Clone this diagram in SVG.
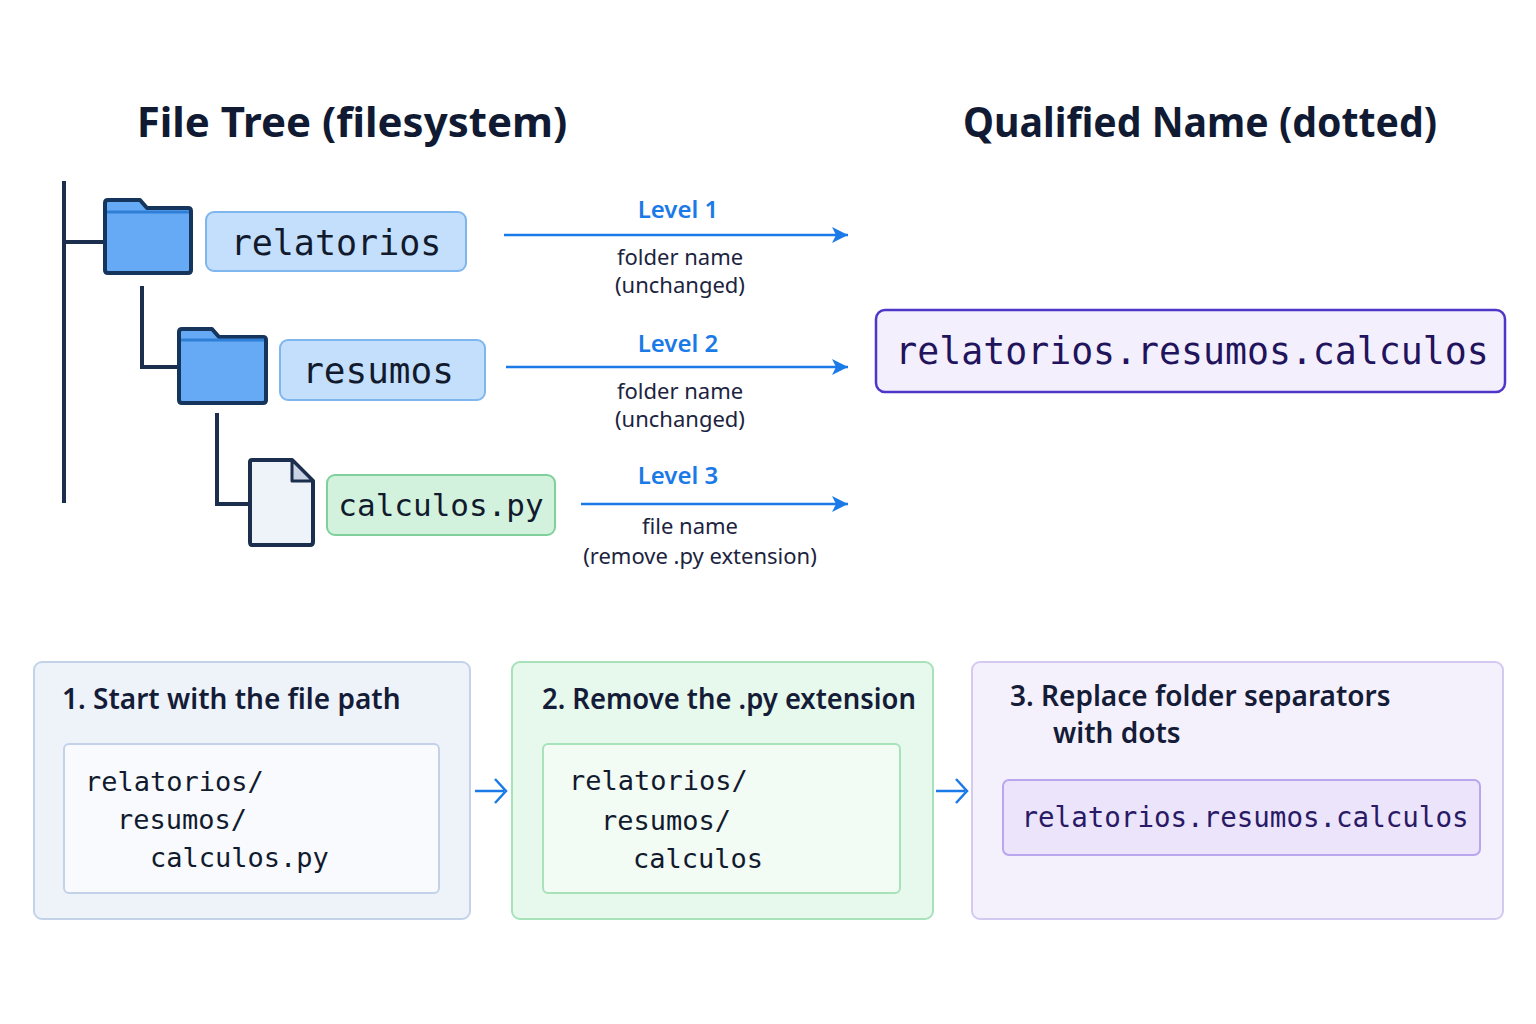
<svg xmlns="http://www.w3.org/2000/svg" width="1536" height="1024" viewBox="0 0 1536 1024">
<defs>
<style>
.title{font-family:"Noto Sans",sans-serif;font-weight:700;font-size:42px;fill:#111a33}
.mono{font-family:"DejaVu Sans Mono",monospace;fill:#121a2e}
.lvl{font-family:"Noto Sans",sans-serif;font-weight:600;font-size:24px;fill:#1a7ae8}
.note{font-family:"Noto Sans",sans-serif;font-size:22px;fill:#1c2440}
.step{font-family:"Noto Sans",sans-serif;font-weight:600;font-size:28px;fill:#141c38}
.tree{stroke:#1c2e4e;stroke-width:4;fill:none}
.arr{stroke:#1a7ae8;stroke-width:2.5;fill:none}
.folder{fill:#66aaf5;stroke:#16355c;stroke-width:4;stroke-linejoin:round}
</style>
<marker id="ah" viewBox="0 0 20 20" refX="18" refY="10" markerWidth="20" markerHeight="20" orient="auto" markerUnits="userSpaceOnUse"><path d="M2,2 L18,10 L2,18 L6,10 Z" fill="#1a7ae8"/></marker>
</defs>
<rect width="1536" height="1024" fill="#fff"/>
<text class="title" x="352" y="137" text-anchor="middle">File Tree (filesystem)</text>
<text class="title" x="1200" y="137" text-anchor="middle" textLength="474" lengthAdjust="spacingAndGlyphs">Qualified Name (dotted)</text>

<g id="connectors">
<path class="tree" d="M64,181 V503 M64,242 H104 M142,286 V367 H179 M217,413 V504 H249"/>
<path class="arr" d="M504,235 H848" marker-end="url(#ah)"/>
<path class="arr" d="M506,367 H848" marker-end="url(#ah)"/>
<path class="arr" d="M581,504 H848" marker-end="url(#ah)"/>
<path class="arr" d="M475,791 H504 M495,779 L506,791 L495,803"/>
<path class="arr" d="M936,791 H965 M956,779 L967,791 L956,803"/>
</g>

<g id="folder1">
<path class="folder" d="M105,203 Q105,200 108,200 H140 L147,208 H188 Q191,208 191,211 V270 Q191,273 188,273 H108 Q105,273 105,270 Z"/>
<path d="M107,212 H189" stroke="#2f7fd8" stroke-width="3"/>
<rect x="206" y="212" width="260" height="59" rx="8" fill="#c4dffb" stroke="#7fb6ee" stroke-width="2"/>
<text class="mono" x="336" y="255" font-size="35" text-anchor="middle">relatorios</text>
</g>
<g id="folder2">
<path class="folder" d="M179,332 Q179,329 182,329 H212 L219,337 H263 Q266,337 266,340 V400 Q266,403 263,403 H182 Q179,403 179,400 Z"/>
<path d="M181,340 H264" stroke="#2f7fd8" stroke-width="3"/>
<rect x="280" y="340" width="205" height="60" rx="8" fill="#c4dffb" stroke="#7fb6ee" stroke-width="2"/>
<text class="mono" x="378" y="383" font-size="36" text-anchor="middle">resumos</text>
</g>
<g id="file">
<path d="M250,462 Q250,460 252,460 H292 L313,481 V542 Q313,545 310,545 H252 Q250,545 250,542 Z" fill="#eef2f9" stroke="#1c2e4e" stroke-width="4" stroke-linejoin="round"/>
<path d="M292,460 V481 H313 Z" fill="#c9d3e3" stroke="#1c2e4e" stroke-width="3" stroke-linejoin="round"/>
<rect x="327" y="475" width="228" height="60" rx="8" fill="#d3f2dd" stroke="#7fd09a" stroke-width="2"/>
<text class="mono" x="441" y="516" font-size="31" text-anchor="middle">calculos.py</text>
</g>

<g id="labels">
<text class="lvl" x="678" y="218" text-anchor="middle">Level 1</text>
<text class="note" x="680" y="265" text-anchor="middle">folder name</text>
<text class="note" x="680" y="293" text-anchor="middle">(unchanged)</text>
<text class="lvl" x="678" y="352" text-anchor="middle">Level 2</text>
<text class="note" x="680" y="399" text-anchor="middle">folder name</text>
<text class="note" x="680" y="427" text-anchor="middle">(unchanged)</text>
<text class="lvl" x="678" y="484" text-anchor="middle">Level 3</text>
<text class="note" x="690" y="534" text-anchor="middle">file name</text>
<text class="note" x="700" y="564" text-anchor="middle">(remove .py extension)</text>
</g>

<g id="result">
<rect x="876" y="310" width="629" height="82" rx="9" fill="#f3effd" stroke="#4e36c9" stroke-width="2.5"/>
<text class="mono" x="1192" y="364" font-size="36.5" text-anchor="middle" style="fill:#22145c">relatorios.resumos.calculos</text>
</g>

<g id="step1">
<rect x="34" y="662" width="436" height="257" rx="8" fill="#eef3fa" stroke="#c3d2e8" stroke-width="2"/>
<text class="step" x="62" y="709">1.  Start with the file path</text>
<rect x="64" y="744" width="375" height="149" rx="5" fill="#f8fafd" stroke="#c3d2e8" stroke-width="2"/>
<text class="mono" font-size="27"><tspan x="85" y="791">relatorios/</tspan><tspan x="117" y="829">resumos/</tspan><tspan x="150" y="867">calculos.py</tspan></text>
</g>
<g id="step2">
<rect x="512" y="662" width="421" height="257" rx="8" fill="#e7f8ec" stroke="#a7e2bb" stroke-width="2"/>
<text class="step" x="542" y="709" textLength="374" lengthAdjust="spacingAndGlyphs">2.  Remove the .py extension</text>
<rect x="543" y="744" width="357" height="149" rx="5" fill="#f3fbf5" stroke="#a7e2bb" stroke-width="2"/>
<text class="mono" font-size="27"><tspan x="569" y="790">relatorios/</tspan><tspan x="601" y="830">resumos/</tspan><tspan x="633" y="868">calculos</tspan></text>
</g>
<g id="step3">
<rect x="972" y="662" width="531" height="257" rx="8" fill="#f4f1fc" stroke="#d3c9f1" stroke-width="2"/>
<text class="step" x="1010" y="706">3.  Replace folder separators</text>
<text class="step" x="1053" y="743">with dots</text>
<rect x="1003" y="780" width="477" height="75" rx="6" fill="#ebe4fb" stroke="#b9a6ee" stroke-width="2"/>
<text class="mono" x="1245" y="827" font-size="27.5" text-anchor="middle" style="fill:#2a1a66">relatorios.resumos.calculos</text>
</g>
</svg>
